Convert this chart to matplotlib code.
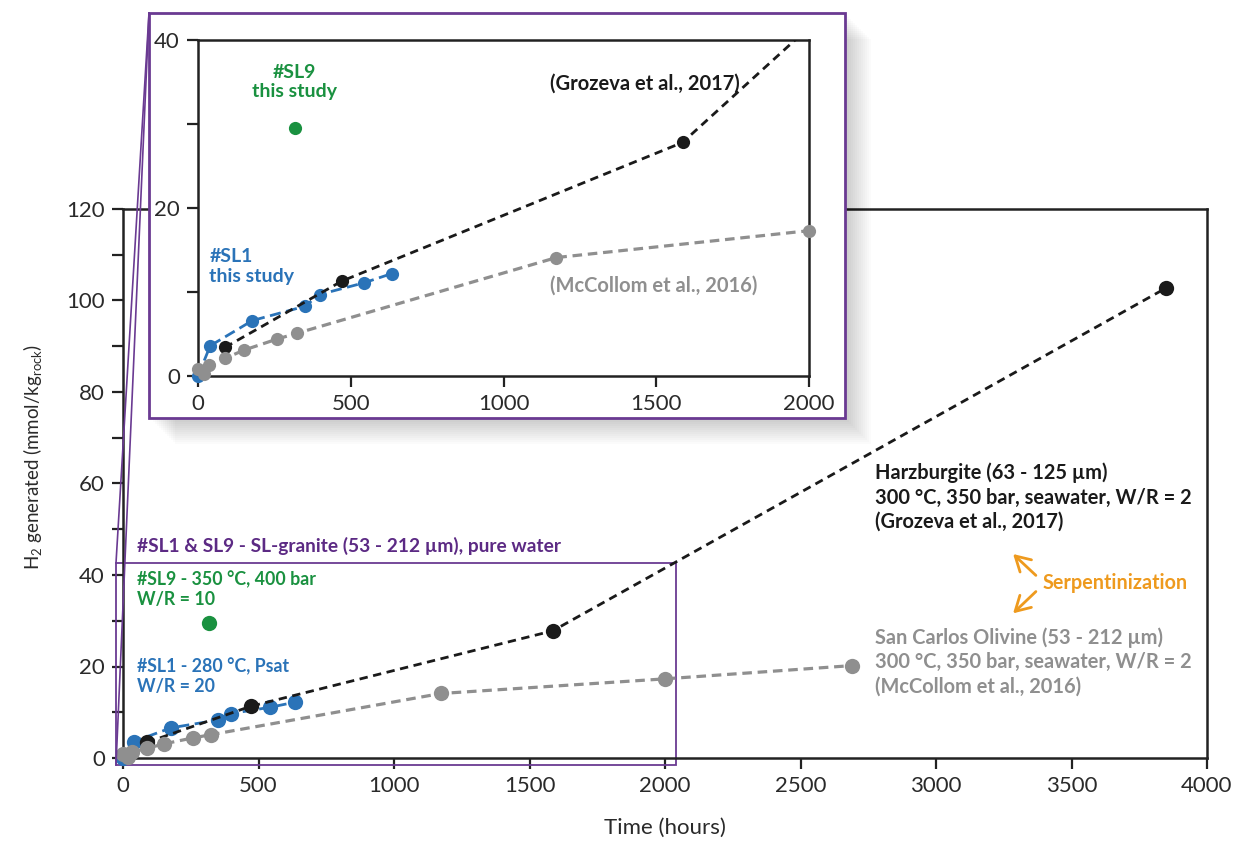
import matplotlib
matplotlib.use('Agg')
import matplotlib.pyplot as plt
from matplotlib.patches import Rectangle, FancyArrowPatch
from matplotlib.lines import Line2D

plt.rcParams['font.family'] = ['Lato', 'DejaVu Sans']
plt.rcParams['mathtext.fontset'] = 'custom'
plt.rcParams['mathtext.rm'] = 'Lato'
plt.rcParams['mathtext.it'] = 'Lato:italic'
plt.rcParams['mathtext.bf'] = 'Lato:bold'

# ---------------- data ----------------
sl1_time = [0, 40, 178, 350, 398, 544, 635]
sl1_h2 = [0, 3.6, 6.6, 8.3, 9.7, 11.1, 12.2]
sl9_time = [318]
sl9_h2 = [29.5]
groz_time = [88, 471, 1586, 3848]
groz_h2 = [3.4, 11.3, 27.8, 102.7]
mccol_time = [0, 20, 35, 88, 152, 259, 325, 1173, 2000, 2690]
mccol_h2 = [0.8, 0.2, 1.3, 2.1, 3.1, 4.4, 5.1, 14.1, 17.3, 20.2]

main_xticks = [0, 500, 1000, 1500, 2000, 2500, 3000, 3500, 4000]
main_yticks = list(range(0, 121, 10))
inset_xticks = [0, 500, 1000, 1500, 2000]
inset_yticks = [0, 10, 20, 30, 40]

BLUE = '#2a73b8'
GREEN = '#1a9140'
GRAY = '#8f8f8f'
BLACK = '#1a1a1a'
PURPLE = '#6a3a92'
PURPLE_T = '#5c2a84'
ORANGE = '#ee9a1e'

W, H = 1243, 852
fig = plt.figure(figsize=(W / 100, H / 100), dpi=100)
fig.patch.set_facecolor('white')


def fx(px):
    return px / W


def fy(py):
    return 1 - py / H


def style_axes(ax, xticks, yticks, ylab_every):
    for s in ax.spines.values():
        s.set_linewidth(1.8)
        s.set_color('#222222')
    ax.set_xticks(xticks)
    ax.set_xticklabels([str(v) for v in xticks])
    ax.set_yticks(yticks)
    ax.set_yticklabels([str(v) if v % ylab_every == 0 else '' for v in yticks])
    ax.tick_params(direction='out', length=8, width=1.6, color='#222222',
                   labelsize=16, labelcolor='#2a2a2a', pad=5)


# ---------------- main axes ----------------
ax = fig.add_axes([fx(123), fy(758), (1207 - 123) / W, (758 - 209) / H])
ax.set_xlim(0, 4000)
ax.set_ylim(0, 120)
style_axes(ax, main_xticks, main_yticks, 20)

ms = 11
ax.plot(sl1_time, sl1_h2, ls=(0, (4, 2)), color=BLUE, lw=2, marker='o', ms=ms,
        mew=0, clip_on=False, zorder=3)
ax.plot(groz_time, groz_h2, ls=(0, (3, 2)), color=BLACK, lw=2, marker='o', ms=ms,
        mew=0, clip_on=False, zorder=4)
ax.plot(mccol_time, mccol_h2, ls=(0, (3, 1.8)), color=GRAY, lw=2.3, marker='o', ms=ms,
        mew=0, clip_on=False, zorder=5)
ax.plot(sl9_time, sl9_h2, ls='none', color=GREEN, marker='o', ms=ms, mew=0,
        clip_on=False, zorder=5)

ax.set_xlabel('Time (hours)', fontsize=16, labelpad=16, color='#2a2a2a')
ax.set_ylabel(r'H$_2$ generated (mmol/kg$_{\mathrm{rock}}$)', fontsize=13.5,
              color='#2a2a2a')
ax.yaxis.set_label_coords(-0.073, 0.548)

# zoom rectangle
ax.add_patch(Rectangle((-26, -1.5), 2066, 44.2, fill=False, ec=PURPLE, lw=1.3,
                       clip_on=False, zorder=2))

ax.text(52, 46.3, '#SL1 & SL9 - SL-granite (53 - 212 µm), pure water',
        color=PURPLE_T, va='center', ha='left', fontsize=13.8, fontweight='bold')
ax.text(52, 41.0, '#SL9 - 350 °C, 400 bar\nW/R = 10', color=GREEN,
        va='top', ha='left', fontsize=12.8, fontweight='bold', linespacing=1.2)
ax.text(52, 22.0, '#SL1 - 280 °C, Psat\nW/R = 20', color=BLUE,
        va='top', ha='left', fontsize=12.8, fontweight='bold', linespacing=1.2)
ax.text(2775, 64.6, 'Harzburgite (63 - 125 µm)\n300 °C, 350 bar, seawater, W/R = 2\n(Grozeva et al., 2017)',
        color=BLACK, va='top', ha='left', fontsize=14.4, fontweight='bold', linespacing=1.28)
ax.text(2775, 28.6, 'San Carlos Olivine (53 - 212 µm)\n300 °C, 350 bar, seawater, W/R = 2\n(McCollom et al., 2016)',
        color=GRAY, va='top', ha='left', fontsize=14.4, fontweight='bold', linespacing=1.28)
ax.text(3395, 38.3, 'Serpentinization', color=ORANGE, va='center', ha='left',
        fontsize=14.2, fontweight='bold')
for (x0, y0, x1, y1) in [(3376, 39.5, 3277, 45.0), (3376, 36.8, 3277, 31.2)]:
    ax.add_patch(FancyArrowPatch((x0, y0), (x1, y1), arrowstyle='->,head_length=7,head_width=4',
                                 color=ORANGE, lw=2, mutation_scale=1.5, zorder=6))

# ---------------- inset frame + shadow ----------------
fl, ft, fr, fb = 149, 13, 845, 418
for d in range(2, 28, 2):
    fig.add_artist(Rectangle((fx(fl + d), fy(fb + d)), (fr - fl) / W, (fb - ft) / H,
                             transform=fig.transFigure, fc='black', ec='none',
                             alpha=0.014, zorder=3))
fig.add_artist(Rectangle((fx(fl), fy(fb)), (fr - fl) / W, (fb - ft) / H,
                         transform=fig.transFigure, fc='white', ec=PURPLE, lw=2,
                         zorder=4))
fig.add_artist(Line2D([fx(fl), fx(116)], [fy(ft), fy(563)], transform=fig.transFigure,
                      color=PURPLE, lw=1.2, zorder=6))
fig.add_artist(Line2D([fx(fl), fx(116)], [fy(ft), fy(765)], transform=fig.transFigure,
                      color=PURPLE, lw=1.2, zorder=6))

# ---------------- inset axes ----------------
ins = fig.add_axes([fx(198), fy(376), (809 - 198) / W, (376 - 40) / H])
ins.set_zorder(5)
ins.set_facecolor('white')
ins.set_xlim(0, 2000)
ins.set_ylim(0, 40)
style_axes(ins, inset_xticks, inset_yticks, 20)

ims = 9.5


def inset_series(t, v, ls, color, lw, z):
    if ls is not None:
        ins.plot(t, v, ls=ls, color=color, lw=lw, zorder=z)
    pts = [(a, b) for a, b in zip(t, v) if a <= 2000]
    ins.plot([p[0] for p in pts], [p[1] for p in pts], ls='none', marker='o', ms=ims,
             mew=0, color=color, clip_on=False, zorder=z)


inset_series(sl1_time, sl1_h2, (0, (4, 2)), BLUE, 2, 3)
inset_series(groz_time, groz_h2, (0, (3, 2)), BLACK, 2, 4)
inset_series(mccol_time, mccol_h2, (0, (3, 1.8)), GRAY, 2.3, 5)
inset_series(sl9_time, sl9_h2, None, GREEN, 0, 5)

ins.text(317, 37.2, '#SL9\nthis study', color=GREEN, ha='center', va='top',
         fontsize=14, fontweight='bold', linespacing=1.2)
ins.text(37, 15.2, '#SL1\nthis study', color=BLUE, ha='left', va='top',
         fontsize=14, fontweight='bold', linespacing=1.2)
ins.text(1151, 34.8, '(Grozeva et al., 2017)', color=BLACK, ha='left', va='center',
         fontsize=14.5, fontweight='bold')
ins.text(1151, 10.7, '(McCollom et al., 2016)', color=GRAY, ha='left', va='center',
         fontsize=14.5, fontweight='bold')

fig.savefig('out.png', dpi=100)
